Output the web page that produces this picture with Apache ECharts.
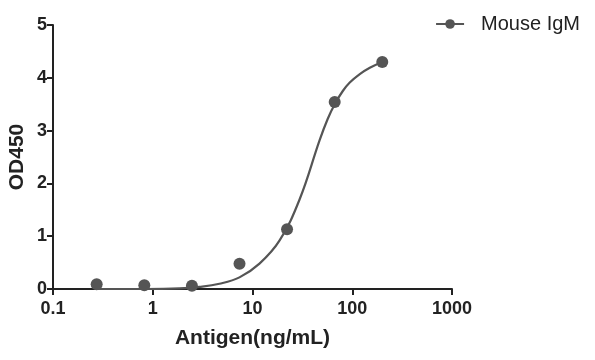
<!DOCTYPE html>
<html>
<head>
<meta charset="utf-8">
<script src="https://cdn.jsdelivr.net/npm/echarts@6/dist/echarts.min.js"></script>
<style>html,body{margin:0;padding:0;background:#fff}#c{width:595px;height:360px}</style>
</head>
<body>
<div id="c"></div>
<script>
// Measured points
var concentrations = [0.274, 0.823, 2.47, 7.41, 22.2, 66.7, 200];
var od450 = [0.09, 0.07, 0.06, 0.48, 1.13, 3.54, 4.30];
// Fitted curve
var curveX = [0.274, 0.823, 1.85, 2.93, 4.66, 7.40, 11.75, 18.7, 29.7, 47.1, 56.7, 66.7, 80.4, 94.4, 119, 150, 200];
var curveY = [0.00, 0.00, 0.01, 0.04, 0.10, 0.22, 0.48, 0.92, 1.70, 2.82, 3.22, 3.50, 3.75, 3.91, 4.07, 4.19, 4.30];
var yTicks = [0, 1, 2, 3, 4, 5];
var seriesName = 'Mouse IgM';

var pts = concentrations.map(function (x, i) { return [x, od450[i]]; });
var curve = curveX.map(function (x, i) { return [x, curveY[i]]; });
var col = '#555555';
var font = '"Liberation Sans", Arial, sans-serif';

var chart = echarts.init(document.getElementById('c'));
chart.setOption({
  animation: false,
  grid: { left: 53, right: 143, top: 25, bottom: 71, containLabel: false, outerBoundsMode: 'none' },
  legend: {
    data: [seriesName],
    right: 10, top: 9,
    itemWidth: 28, itemHeight: 12,
    textStyle: { fontFamily: font, fontSize: 20, color: '#222', padding: [0, 0, 0, 12] }
  },
  xAxis: {
    type: 'log', logBase: 10, min: 0.1, max: 1000,
    name: 'Antigen(ng/mL)', nameLocation: 'middle', nameGap: 39, nameMoveOverlap: false,
    nameTextStyle: { fontFamily: font, fontSize: 21, fontWeight: 'bold', color: '#222' },
    axisLine: { lineStyle: { color: '#222', width: 2 } },
    axisTick: { length: 6, lineStyle: { color: '#222', width: 2 } },
    minorTick: { show: false },
    splitLine: { show: false },
    axisLabel: { fontFamily: font, fontSize: 18, fontWeight: 'bold', color: '#222', margin: 11,
      formatter: function (v) { return String(v); } }
  },
  yAxis: {
    type: 'value', min: yTicks[0], max: yTicks[yTicks.length - 1], interval: 1,
    name: 'OD450', nameLocation: 'middle', nameGap: 25, nameMoveOverlap: false,
    nameTextStyle: { fontFamily: font, fontSize: 21, fontWeight: 'bold', color: '#222' },
    axisLine: { show: true, lineStyle: { color: '#222', width: 2 } },
    axisTick: { show: true, length: 6, lineStyle: { color: '#222', width: 2 } },
    splitLine: { show: false },
    axisLabel: { fontFamily: font, fontSize: 18, fontWeight: 'bold', color: '#222', margin: 6 }
  },
  series: [
    {
      name: seriesName, type: 'line', data: curve, smooth: 0.4,
      symbol: 'circle', symbolSize: 11, showSymbol: false,
      itemStyle: { color: col },
      lineStyle: { color: col, width: 2.2 }, z: 2
    },
    {
      name: 'points', type: 'scatter', data: pts, symbol: 'circle', symbolSize: 12,
      itemStyle: { color: col, opacity: 1 }, z: 3
    }
  ]
});
</script>
</body>
</html>
